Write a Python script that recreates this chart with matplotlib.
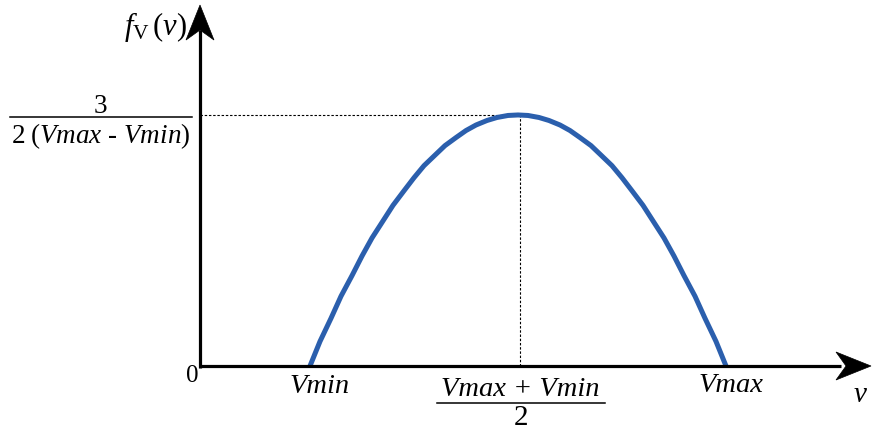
import matplotlib
matplotlib.use("Agg")
import matplotlib.pyplot as plt
from matplotlib.patches import Polygon
from matplotlib.transforms import Affine2D, ScaledTranslation

plt.rcParams['font.family'] = ['Liberation Serif', 'DejaVu Serif']
plt.rcParams['mathtext.fontset'] = 'custom'
plt.rcParams['mathtext.rm'] = 'Liberation Serif'
plt.rcParams['mathtext.it'] = 'Liberation Serif:italic'
plt.rcParams['mathtext.bf'] = 'Liberation Serif:bold'

# ---- data (v in arbitrary units, f in units of the peak) ----
v_values = [1.10, 1.20, 1.31, 1.41, 1.52, 1.62, 1.72, 1.83, 1.93, 2.04,
            2.14, 2.24, 2.35, 2.45, 2.56, 2.66, 2.76, 2.87, 2.97, 3.08,
            3.18,
            3.28, 3.39, 3.49, 3.60, 3.70, 3.80, 3.91, 4.01, 4.12, 4.22,
            4.32, 4.43, 4.53, 4.64, 4.74, 4.84, 4.95, 5.05, 5.16, 5.26]
f_values = [0.000, 0.098, 0.190, 0.278, 0.360, 0.438, 0.510, 0.578, 0.640, 0.698,
            0.750, 0.798, 0.840, 0.878, 0.910, 0.938, 0.960, 0.978, 0.990, 0.998,
            1.000,
            0.998, 0.990, 0.978, 0.960, 0.938, 0.910, 0.878, 0.840, 0.798, 0.750,
            0.698, 0.640, 0.578, 0.510, 0.438, 0.360, 0.278, 0.190, 0.098, 0.000]
v_min = 1.10
v_max = 5.26
v_peak = 3.20
f_peak = 1.00

x_tick_labels = ['Vmin', 'Vmax + Vmin', 'Vmax']
origin_label = '0'
x_axis_label = 'v'
y_axis_label = r'$f_{\mathrm{V}}\,(v)$'
peak_label_num = '3'
peak_label_den = r'$2\;(Vmax$ - $Vmin)$'
mid_label_den = '2'

# ---- figure ----
W, H = 873, 430
fig = plt.figure(figsize=(W / 100, H / 100), dpi=100)
ax = fig.add_axes([0, 0, 1, 1])
ax.set_xlim(-2.0, 6.73)
ax.set_ylim(-0.255, 1.458)
ax.axis('off')

black = '#000000'
blue = '#2b5fad'

# dashed guide lines
ax.plot([0, v_peak], [f_peak, f_peak], color=black, lw=0.8, ls=(0, (2.2, 1.6)), zorder=2)
ax.plot([v_peak, v_peak], [0, f_peak], color=black, lw=0.8, ls=(0, (2.2, 1.6)), zorder=2)

# curve
ax.plot(v_values, f_values, color=blue, lw=3.6, solid_capstyle='butt',
        solid_joinstyle='round', zorder=3)

# axes lines
x_end = 6.71
y_end = 1.438
ax.plot([-0.01, x_end - 0.30], [0, 0], color=black, lw=2.3, solid_capstyle='butt', zorder=4)
ax.plot([0, 0], [-0.01, y_end - 0.10], color=black, lw=2.3, solid_capstyle='butt', zorder=4)


def arrow_head(tip, direction):
    # head shape in pixel offsets (stealth-like), pointing +x
    pts = [(0, 0), (-35, 14), (-25, 0), (-35, -14)]
    rot = 0 if direction == 'x' else 90
    tr = (Affine2D().rotate_deg(rot).scale(1 / 100) + fig.dpi_scale_trans
          + ScaledTranslation(tip[0], tip[1], ax.transData))
    ax.add_patch(Polygon(pts, closed=True, facecolor=black, edgecolor=black,
                         lw=0.5, transform=tr, zorder=5, clip_on=False))


arrow_head((x_end, 0), 'x')
arrow_head((0, y_end), 'y')

# x labels
ax.text(v_min + 0.10, -0.108, x_tick_labels[0], fontsize=20.5, style='italic',
        ha='center', va='baseline')
ax.text(v_max + 0.05, -0.104, x_tick_labels[2], fontsize=20.5, style='italic',
        ha='center', va='baseline')
ax.text(v_peak, -0.120, x_tick_labels[1], fontsize=20.5, style='italic',
        ha='center', va='baseline')
ax.plot([2.37, 4.05], [-0.1474, -0.1474], color=black, lw=1.1, zorder=4)
ax.text(v_peak + 0.01, -0.235, mid_label_den, fontsize=21, ha='center', va='baseline')
ax.text(-0.08, -0.040, origin_label, fontsize=18, ha='center', va='center')
ax.text(6.60, -0.143, x_axis_label, fontsize=21, style='italic', ha='center', va='baseline')

# y labels
ax.text(-1.00, 1.008, peak_label_num, fontsize=19.5, ha='center', va='baseline')
ax.plot([-1.90, -0.08], [0.992, 0.992], color=black, lw=1.1, zorder=4)
ax.text(-0.99, 0.888, peak_label_den, fontsize=19.5, ha='center', va='baseline')
ax.text(-0.45, 1.319, y_axis_label, fontsize=22, ha='center', va='baseline')

fig.savefig('out.png', dpi=100)
